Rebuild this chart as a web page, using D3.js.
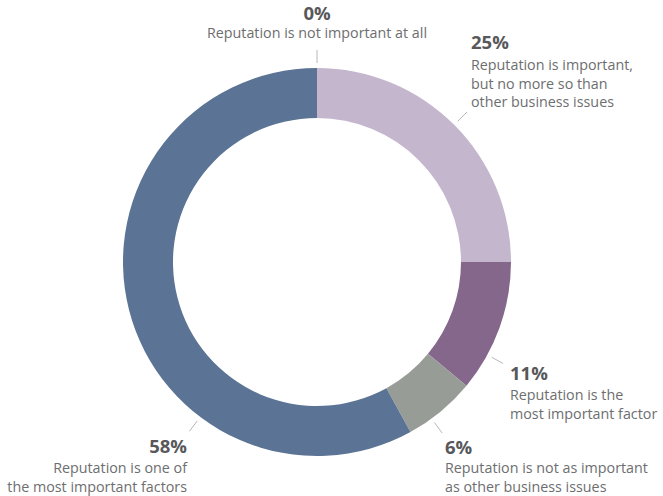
<!DOCTYPE html>
<html>
<head>
<meta charset="utf-8">
<script src="https://cdn.jsdelivr.net/npm/d3@7"></script>
<style>
  html, body { margin: 0; padding: 0; background: #fff; }
  svg { display: block; }
  .pct { font-family: "Open Sans", Lato, sans-serif; font-weight: 700; fill: #58585a; }
  .desc { font-family: "Open Sans", Lato, sans-serif; font-weight: 400; fill: #6d6e70; }
</style>
</head>
<body>
<svg id="chart" width="663" height="496"></svg>
<script>
// Survey answers, in clockwise order starting from 12 o'clock
const categories = [
  "Reputation is not important at all",
  "Reputation is important, but no more so than other business issues",
  "Reputation is the most important factor",
  "Reputation is not as important as other business issues",
  "Reputation is one of the most important factors"
];
const values = [0, 25, 11, 6, 58];
const labelLines = [
  ["Reputation is not important at all"],
  ["Reputation is important,", "but no more so than", "other business issues"],
  ["Reputation is the", "most important factor"],
  ["Reputation is not as important", "as other business issues"],
  ["Reputation is one of", "the most important factors"]
];
const colors = ["#5b7394", "#c3b6cd", "#84678b", "#989c96", "#5b7394"];

// Callout placement: leader angle (degrees, clockwise from top), percentage baseline,
// gap to the first description line, and text alignment
const callouts = [
  { angle: 0,     x: 317, y: 20,  gap: 17.7, anchor: "middle" },
  { angle: 45,    x: 471, y: 49,  gap: 21,   anchor: "start" },
  { angle: 118.6, x: 510, y: 380, gap: 20,   anchor: "start" },
  { angle: 143.8, x: 445, y: 454, gap: 19.3, anchor: "start" },
  { angle: 217,   x: 187, y: 453, gap: 20,   anchor: "end" }
];
const lineStep = 18.5;

const svg = d3.select("#chart");
const cx = 317, cy = 262;
const outerR = 194, innerR = 144;

const pie = d3.pie().sort(null).value(d => d)(values);
const arc = d3.arc().innerRadius(innerR).outerRadius(outerR);

const g = svg.append("g").attr("transform", `translate(${cx},${cy})`);

g.selectAll("path.slice")
  .data(pie)
  .join("path")
  .attr("class", "slice")
  .attr("d", arc)
  .attr("fill", (d, i) => colors[i]);

// Leader ticks
const rad = a => a * Math.PI / 180;
g.selectAll("line.leader")
  .data(callouts)
  .join("line")
  .attr("class", "leader")
  .attr("x1", d => 199 * Math.sin(rad(d.angle)))
  .attr("y1", d => -199 * Math.cos(rad(d.angle)))
  .attr("x2", d => 212 * Math.sin(rad(d.angle)))
  .attr("y2", d => -212 * Math.cos(rad(d.angle)))
  .attr("stroke", "#b8b8b8")
  .attr("stroke-width", 1);

// Labels
const labels = svg.selectAll("g.label")
  .data(callouts)
  .join("g")
  .attr("class", "label");

labels.append("text")
  .attr("class", "pct")
  .attr("x", d => d.x)
  .attr("y", d => d.y)
  .attr("text-anchor", d => d.anchor)
  .attr("font-size", 18.5)
  .text((d, i) => values[i] + "%");

labels.each(function (d, i) {
  d3.select(this).selectAll("text.desc")
    .data(labelLines[i])
    .join("text")
    .attr("class", "desc")
    .attr("x", d.x)
    .attr("y", (t, j) => d.y + d.gap + j * lineStep)
    .attr("text-anchor", d.anchor)
    .attr("font-size", 14.3)
    .text(t => t);
});
</script>
</body>
</html>
